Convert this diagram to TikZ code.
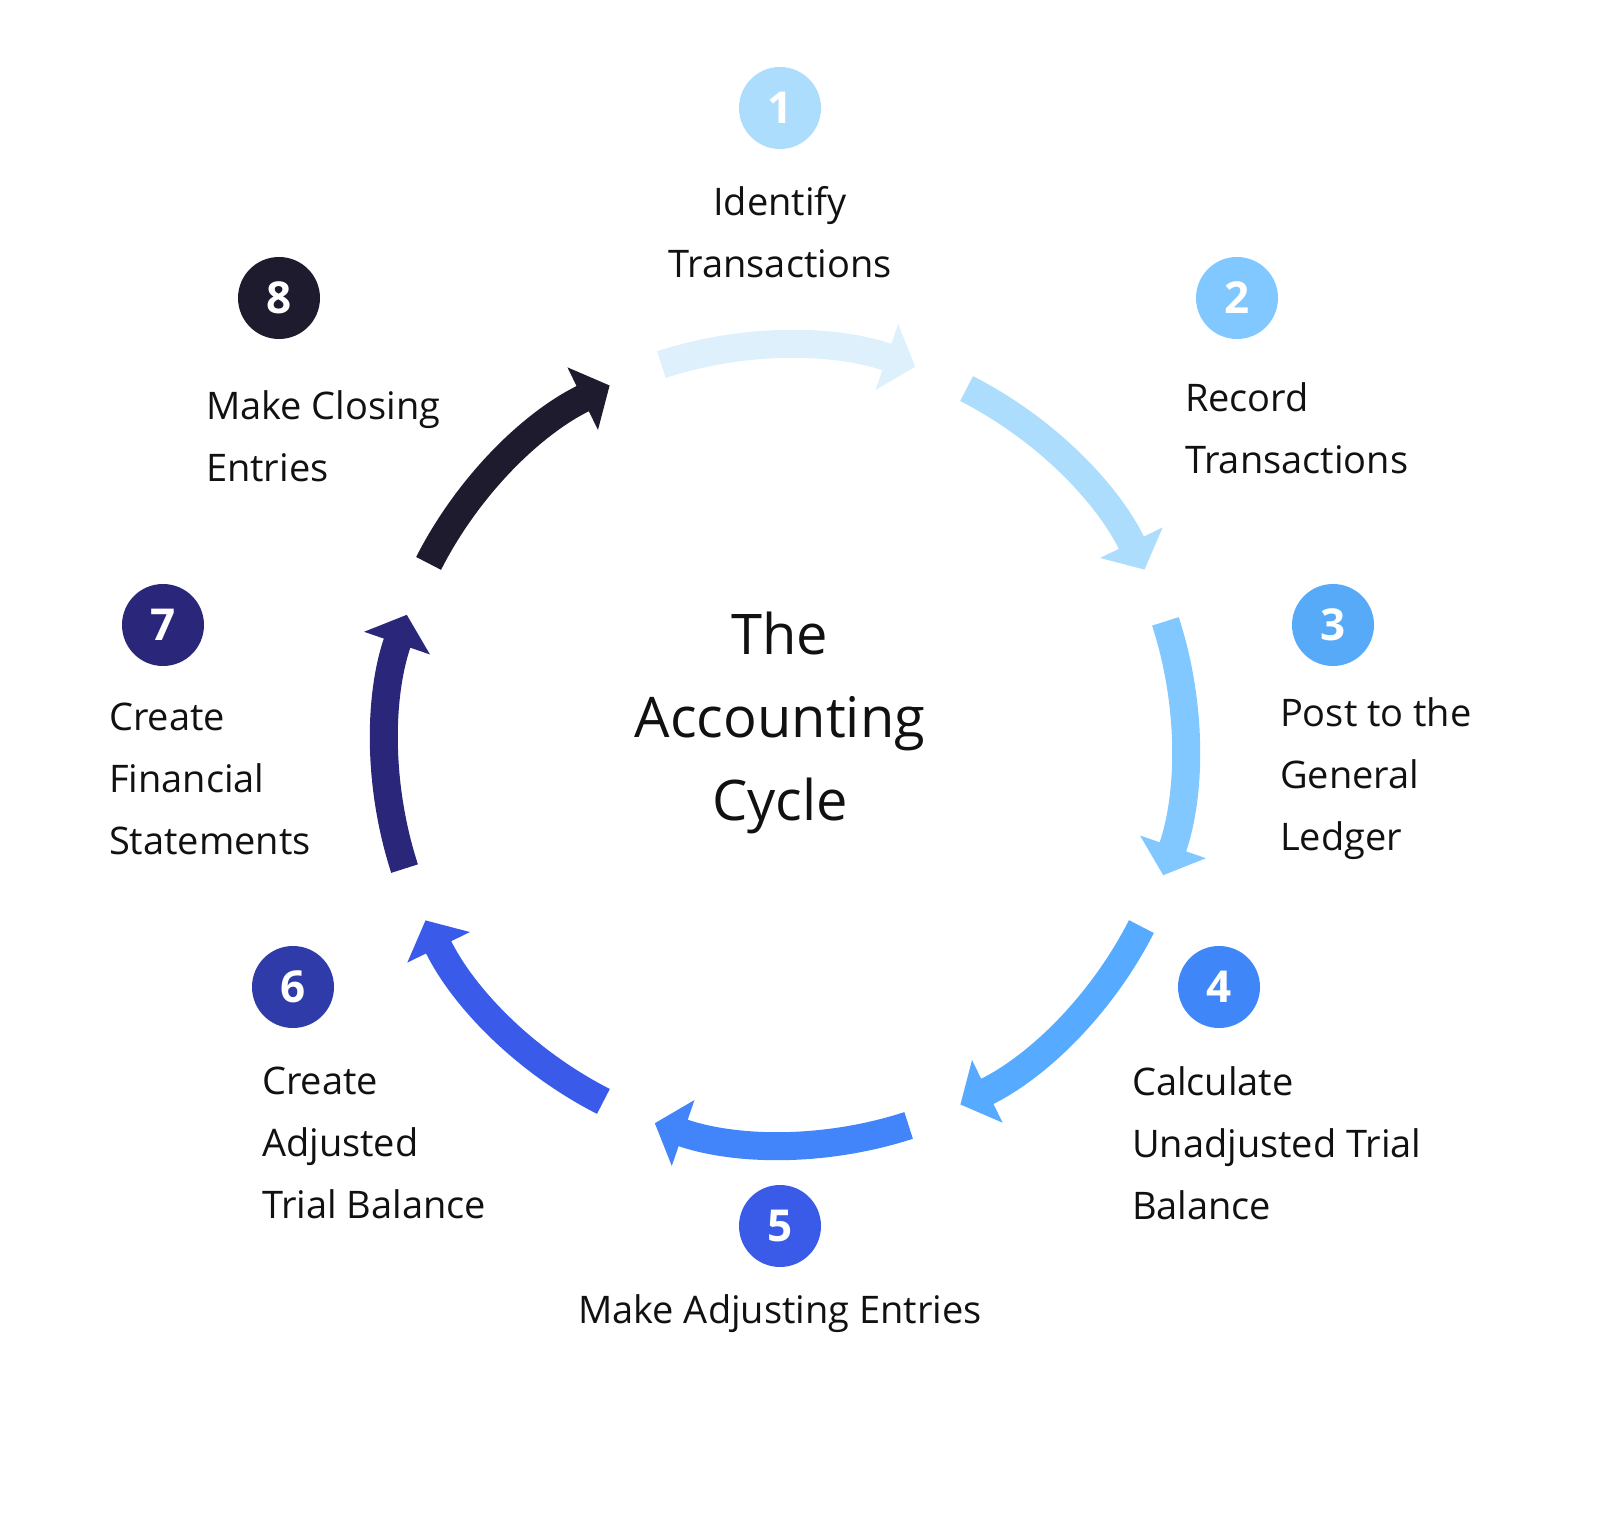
\documentclass[tikz,border=0pt]{standalone}
\usepackage{fontspec}
\setmainfont{Open Sans}
\usetikzlibrary{arrows.meta,calc}
\definecolor{a1}{HTML}{DDF0FC}\definecolor{a2}{HTML}{ADDDFD}\definecolor{a3}{HTML}{80C8FF}
\definecolor{a4}{HTML}{56AAFF}\definecolor{a5}{HTML}{4285FA}\definecolor{a6}{HTML}{3A5BEA}
\definecolor{a7}{HTML}{2A2679}\definecolor{a8}{HTML}{1E1B2E}
\definecolor{c1}{HTML}{ADDDFD}\definecolor{c2}{HTML}{80C8FF}\definecolor{c3}{HTML}{56AAF8}
\definecolor{c4}{HTML}{3F86F8}\definecolor{c5}{HTML}{3A5BE8}\definecolor{c6}{HTML}{2E3BA8}
\definecolor{c7}{HTML}{2A2679}\definecolor{c8}{HTML}{1E1B2E}
\definecolor{txt}{HTML}{111111}
\begin{document}
\begin{tikzpicture}[x=0.5pt,y=0.5pt,
 num/.style={circle,minimum size=41pt,inner sep=0pt,text=white,font=\fontsize{22}{22}\selectfont\bfseries},
 lab/.style={align=left,anchor=west,text=txt,font=\fontsize{19}{31}\selectfont},
 labc/.style={align=center,text=txt,font=\fontsize{19}{31}\selectfont},
 arc/.style={line width=14pt,-{Triangle[width=34pt,length=15pt]}}]
\useasboundingbox (0,0) rectangle (1600,1517);
\coordinate (O) at (785,772);
\foreach \k in {1,...,8}{
  \pgfmathsetmacro\c{90-45*(\k-1)}
  \draw[arc,color=a\k] ($(O)+(\c+18:400)$) arc[start angle=\c+18,end angle=\c-19,radius=400];
}
\node[num,fill=c1] (n1) at (780,1409) {1};
\node[num,fill=c2] (n2) at (1237,1219) {2};
\node[num,fill=c3] (n3) at (1333,892) {3};
\node[num,fill=c4] (n4) at (1219,530) {4};
\node[num,fill=c5] (n5) at (780,291) {5};
\node[num,fill=c6] (n6) at (293,530) {6};
\node[num,fill=c7] (n7) at (163,892) {7};
\node[num,fill=c8] (n8) at (279,1219) {8};
\node[labc] (t1) at (780,1285) {Identify\\Transactions};
\node[lab] (t2) at (1178,1089) {Record\\Transactions};
\node[lab] (t3) at (1273,738) {Post to the\\General\\Ledger};
\node[lab] (t4) at (1125,374) {Calculate\\Unadjusted Trial\\Balance};
\node[labc] (t5) at (780,203) {Make Adjusting Entries};
\node[lab] (t6) at (255,374) {Create\\Adjusted\\Trial Balance};
\node[lab] (t7) at (102,738) {Create\\Financial\\Statements};
\node[lab] (t8) at (199,1081) {Make Closing\\Entries};
\node[align=center,text=txt,font=\fontsize{28}{41.5}\selectfont] (title) at (780,794) {The\\Accounting\\Cycle};
\end{tikzpicture}
\end{document}
